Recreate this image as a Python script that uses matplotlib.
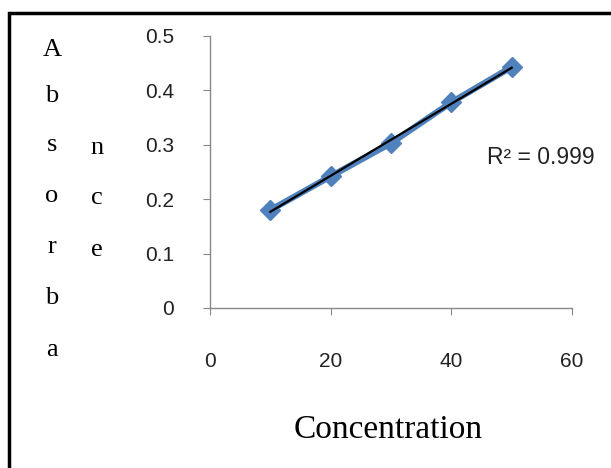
import numpy as np
import matplotlib.pyplot as plt
from matplotlib.patches import Rectangle

# data
concentration = [10, 20, 30, 40, 50]
absorbance = [0.180, 0.242, 0.303, 0.378, 0.443]
x_ticks = [0, 20, 40, 60]
y_ticks = [0, 0.1, 0.2, 0.3, 0.4, 0.5]
r2_label = "R² = 0.999"

blue = "#4F81BD"
grey = "#888888"

fig = plt.figure(figsize=(6.11, 4.68), dpi=100)
ax = fig.add_axes([0.3437, 0.3419, 0.5925, 0.5812])

# series line + diamonds
ax.plot(concentration, absorbance, color=blue, lw=4.5, zorder=2)
ax.plot(concentration, absorbance, ls="none", marker="D", ms=10,
        color=blue, zorder=3)

# linear trendline
slope, intercept = np.polyfit(concentration, absorbance, 1)
xs = np.array([concentration[0], concentration[-1]])
ax.plot(xs, slope * xs + intercept, color="black", lw=1.6, zorder=4)

ax.set_xlim(0, 60)
ax.set_ylim(0, 0.5)
ax.set_xticks(x_ticks)
ax.set_yticks(y_ticks)
ax.set_xticklabels([str(v) for v in x_ticks])
ax.set_yticklabels([f"{v:g}" for v in y_ticks])

for side in ["top", "right"]:
    ax.spines[side].set_visible(False)
for side in ["left", "bottom"]:
    ax.spines[side].set_color(grey)
    ax.spines[side].set_linewidth(1)
ax.tick_params(axis="both", direction="out", length=5, color=grey,
               labelsize=15, labelcolor="#222222")
ax.tick_params(axis="x", pad=27)
ax.tick_params(axis="y", pad=21)
for lab in ax.get_xticklabels() + ax.get_yticklabels():
    lab.set_family("Liberation Sans")

fig.text(487 / 611, 1 - 158 / 468, r2_label, fontsize=16.5,
         family="Liberation Sans", color="#222222", va="center", ha="left")

fig.text(388 / 611, 1 - 430 / 468, "Concentration", fontsize=24,
         family="Liberation Serif", ha="center", va="center")

# y label drawn letter by letter in two columns, like the reference
col1 = ["A", "b", "s", "o", "r", "b", "a"]
col1_y = [50, 96, 145, 196, 247, 298, 350]
col2 = ["n", "c", "e"]
col2_y = [148, 198, 250]
for ch, y in zip(col1, col1_y):
    fig.text(52 / 611, 1 - y / 468, ch, fontsize=19,
             family="Liberation Serif", ha="center", va="center")
for ch, y in zip(col2, col2_y):
    fig.text(97 / 611, 1 - y / 468, ch, fontsize=19,
             family="Liberation Serif", ha="center", va="center")

# black frame
fig.patches.append(Rectangle((8.5 / 611, -0.1), 1.0, 1 - 13.5 / 468 + 0.1,
                             transform=fig.transFigure, fill=False,
                             edgecolor="black", lw=2.5))

fig.savefig("out.png", dpi=100)
